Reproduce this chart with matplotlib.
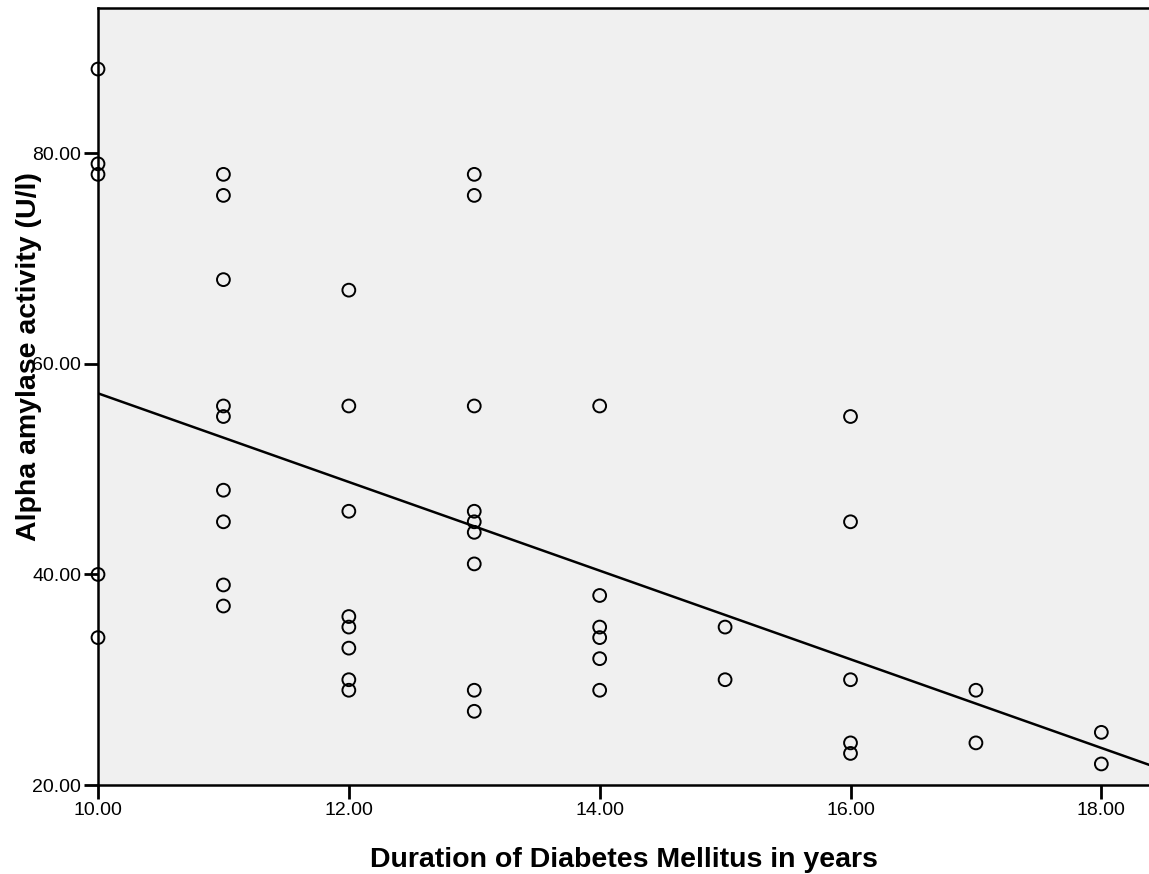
"""Scatter of alpha amylase activity vs diabetes duration with linear fit."""
import numpy as np
import matplotlib
matplotlib.use("Agg")
import matplotlib.pyplot as plt

plt.rcParams['font.family'] = ['Liberation Sans', 'DejaVu Sans']

# data
duration = [10, 10, 10, 10, 10,
            11, 11, 11, 11, 11, 11, 11, 11, 11,
            12, 12, 12, 12, 12, 12, 12, 12,
            13, 13, 13, 13, 13, 13, 13, 13, 13,
            14, 14, 14, 14, 14, 14,
            15, 15,
            16, 16, 16, 16, 16,
            17, 17,
            18, 18]
amylase = [88, 79, 78, 40, 34,
           78, 76, 68, 56, 55, 48, 45, 39, 37,
           67, 56, 46, 36, 35, 33, 30, 29,
           78, 76, 56, 46, 45, 44, 41, 29, 27,
           56, 38, 35, 34, 32, 29,
           35, 30,
           55, 45, 30, 24, 23,
           29, 24,
           25, 22]

# fit line as drawn in the reference
fit_intercept = 99.3
fit_slope = -4.21

x_ticks = [10, 12, 14, 16, 18]
y_ticks = [20, 40, 60, 80]
x_lim = (10, 18.38)
y_lim = (20, 93.8)

fig = plt.figure(figsize=(11.49, 8.74), dpi=100)
ax = fig.add_axes([98 / 1149, 89 / 874, 1051 / 1149, 777 / 874])
ax.set_facecolor('#f0f0f0')

ax.scatter(duration, amylase, s=85, facecolors='none', edgecolors='black',
           linewidths=1.4, zorder=3, clip_on=False)

xs = np.array(x_lim)
ax.plot(xs, fit_intercept + fit_slope * xs, color='black', linewidth=1.8, zorder=2)

ax.set_xlim(*x_lim)
ax.set_ylim(*y_lim)
ax.set_xticks(x_ticks)
ax.set_yticks(y_ticks)
ax.set_xticklabels([f'{v:.2f}' for v in x_ticks])
ax.set_yticklabels([f'{v:.2f}' for v in y_ticks])
ax.tick_params(direction='out', length=10, width=2, labelsize=14, pad=2)

for side in ['left', 'bottom', 'top']:
    ax.spines[side].set_linewidth(1.8)
ax.spines['right'].set_visible(False)

ax.set_xlabel('Duration of Diabetes Mellitus in years', fontsize=20.5, fontweight='bold')
ax.set_ylabel('Alpha amylase activity (U/l)', fontsize=20.5, fontweight='bold')
ax.xaxis.set_label_coords(0.5, -0.080)
ax.yaxis.set_label_coords(-0.053, 0.551)

fig.savefig('out.png', dpi=100)
